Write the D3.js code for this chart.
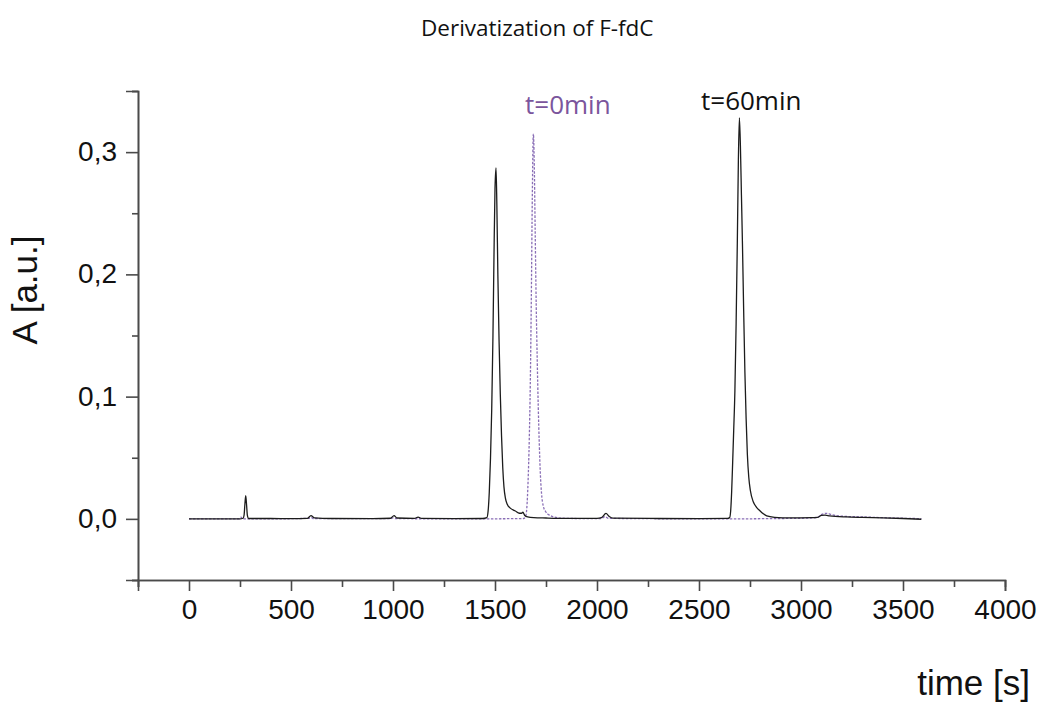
<!DOCTYPE html>
<html>
<head>
<meta charset="utf-8">
<script src="https://cdn.jsdelivr.net/npm/d3@7"></script>
<style>
  html, body { margin: 0; padding: 0; background: #fff; }
  svg { display: block; }
</style>
</head>
<body>
<svg id="chart" width="1049" height="706"></svg>
<script>
// HPLC traces of the derivatization, [time in s, absorbance]
const trace0min = [
  [0, 0], [200, 0], [245, 0], [255, 0.0015], [262, 0], [400, 0],
  [590, 0.0005], [600, 0.001], [610, 0.0003], [990, 0.0002], [1000, 0.0008], [1012, 0.0002],
  [1400, 0], [1640, 0.0003], [1650, 0.002], [1656, 0.009], [1662, 0.03], [1668, 0.065],
  [1673, 0.11], [1678, 0.18], [1683, 0.265], [1688, 0.315], [1692, 0.295], [1697, 0.235],
  [1702, 0.175], [1707, 0.13], [1712, 0.092], [1717, 0.062], [1722, 0.038], [1728, 0.021],
  [1736, 0.011], [1748, 0.006], [1762, 0.0035], [1780, 0.002], [1810, 0.0009], [1860, 0.0004],
  [1950, 0.0002], [2020, 0.0003], [2040, 0.0018], [2055, 0.0005], [2200, 0.0002], [2600, 0],
  [3000, 0.0005], [3080, 0.0012], [3100, 0.0035], [3125, 0.0045], [3150, 0.0035],
  [3200, 0.0022], [3300, 0.0016], [3400, 0.001], [3500, 0.0005], [3590, 0.0002]
];

const trace60min = [
  [0, 0], [100, 0], [200, 0], [250, 0], [265, 0.0005], [270, 0.003], [274, 0.012],
  [278, 0.019], [282, 0.012], [286, 0.003], [292, 0.0003], [400, 0.0003], [500, 0.0002],
  [580, 0.0004], [598, 0.0027], [615, 0.0008], [700, 0.0003], [900, 0.0002],
  [988, 0.0005], [1005, 0.0027], [1020, 0.0007], [1105, 0.0004], [1123, 0.0015],
  [1140, 0.0004], [1300, 0.0002], [1440, 0.0003], [1460, 0.001], [1466, 0.006],
  [1472, 0.022], [1478, 0.05], [1484, 0.09], [1490, 0.15], [1495, 0.215], [1500, 0.27],
  [1505, 0.287], [1509, 0.258], [1514, 0.2], [1520, 0.145], [1526, 0.102], [1532, 0.068],
  [1538, 0.042], [1544, 0.026], [1551, 0.017], [1560, 0.012], [1575, 0.0088], [1598, 0.0066],
  [1620, 0.0046], [1630, 0.0046], [1637, 0.0055], [1645, 0.003], [1660, 0.0016],
  [1690, 0.001], [1750, 0.0007], [1850, 0.0004], [2000, 0.0004], [2022, 0.001],
  [2044, 0.0045], [2060, 0.002], [2078, 0.0006], [2300, 0.0003], [2500, 0.0002],
  [2640, 0.0004], [2650, 0.001], [2655, 0.006], [2660, 0.022], [2665, 0.046], [2670, 0.072],
  [2676, 0.105], [2682, 0.16], [2688, 0.228], [2693, 0.293], [2698, 0.328], [2703, 0.305],
  [2708, 0.265], [2713, 0.225], [2719, 0.17], [2725, 0.12], [2731, 0.082], [2737, 0.053],
  [2744, 0.034], [2752, 0.023], [2766, 0.014], [2782, 0.0095], [2799, 0.0066],
  [2815, 0.0042], [2832, 0.0024], [2870, 0.0013], [2950, 0.0008], [3050, 0.001],
  [3080, 0.0012], [3100, 0.0028], [3118, 0.003], [3140, 0.0025], [3223, 0.0016],
  [3300, 0.0012], [3400, 0.0008], [3500, 0.0003], [3590, -0.0003]
];

const xMajorTicks = [0, 500, 1000, 1500, 2000, 2500, 3000, 3500, 4000];
const xMinorTicks = [-250, 250, 750, 1250, 1750, 2250, 2750, 3250, 3750];
const yMajorTicks = [0, 0.1, 0.2, 0.3];
const yMinorTicks = [-0.05, 0.05, 0.15, 0.25, 0.35];

const titleText = "Derivatization of F-fdC";
const xTitle = "time [s]";
const yTitle = "A [a.u.]";
const label0 = "t=0min";
const label60 = "t=60min";

const svg = d3.select("#chart");

const x = d3.scaleLinear().domain([-250, 4000]).range([138, 1005]);
const y = d3.scaleLinear().domain([-0.05, 0.35]).range([580, 91]);

// decimal comma for the absorbance labels
const commaLocale = d3.formatLocale({ decimal: ",", thousands: ".", grouping: [3], currency: ["", ""] });
const yFmt = commaLocale.format(".1f");

const axisColor = "#4a4a4a";
const tickFont = "'Liberation Sans', Arial, sans-serif";

// y axis: minor ticks first, then major ticks with labels
const gyMinor = svg.append("g").attr("transform", `translate(${x(-250)},0)`)
  .call(d3.axisLeft(y).tickValues(yMinorTicks).tickSize(6).tickFormat(""));
const gy = svg.append("g").attr("transform", `translate(${x(-250)},0)`)
  .call(d3.axisLeft(y).tickValues(yMajorTicks).tickSize(12).tickPadding(9).tickFormat(yFmt));

// x axis along the bottom
const gxMinor = svg.append("g").attr("transform", `translate(0,${y(-0.05)})`)
  .call(d3.axisBottom(x).tickValues(xMinorTicks).tickSize(7).tickFormat(""));
const gx = svg.append("g").attr("transform", `translate(0,${y(-0.05)})`)
  .call(d3.axisBottom(x).tickValues(xMajorTicks).tickSize(11).tickPadding(8).tickFormat(d3.format("d")));

[gyMinor, gy, gxMinor, gx].forEach(g => {
  g.selectAll(".domain").attr("stroke", axisColor).attr("stroke-width", 1.6);
  g.selectAll(".tick line").attr("stroke", axisColor).attr("stroke-width", 1.6);
  g.selectAll(".tick text").attr("fill", "#111").attr("font-family", tickFont).attr("font-size", 28);
});
gy.selectAll(".tick text").attr("dy", "0.3em");
gx.selectAll(".tick text").attr("dy", "0.71em");

// traces
const line = d3.line()
  .x(d => x(d[0]))
  .y(d => y(d[1]))
  .curve(d3.curveMonotoneX);

svg.append("path")
  .datum(trace0min)
  .attr("fill", "none")
  .attr("stroke", "#8a6fb6")
  .attr("stroke-width", 1.3)
  .attr("stroke-dasharray", "2.5,1.5")
  .attr("d", line);

svg.append("path")
  .datum(trace60min)
  .attr("fill", "none")
  .attr("stroke", "#1c1c1c")
  .attr("stroke-width", 1.3)
  .attr("d", line);

// text
const labelFont = "'Open Sans', 'Noto Sans', sans-serif";

svg.append("text")
  .attr("x", 421).attr("y", 36)
  .attr("font-family", labelFont).attr("font-size", 22.5)
  .attr("fill", "#111")
  .text(titleText);

svg.append("text")
  .attr("x", 525).attr("y", 114)
  .attr("font-family", labelFont).attr("font-size", 26)
  .attr("fill", "#7b559c")
  .text(label0);

svg.append("text")
  .attr("x", 701).attr("y", 110)
  .attr("font-family", labelFont).attr("font-size", 26)
  .attr("fill", "#111")
  .text(label60);

svg.append("text")
  .attr("transform", "translate(37,290) rotate(-90)")
  .attr("text-anchor", "middle")
  .attr("font-family", tickFont).attr("font-size", 35)
  .attr("fill", "#111")
  .text(yTitle);

svg.append("text")
  .attr("x", 1030).attr("y", 695)
  .attr("text-anchor", "end")
  .attr("font-family", tickFont).attr("font-size", 35)
  .attr("fill", "#111")
  .text(xTitle);
</script>
</body>
</html>
